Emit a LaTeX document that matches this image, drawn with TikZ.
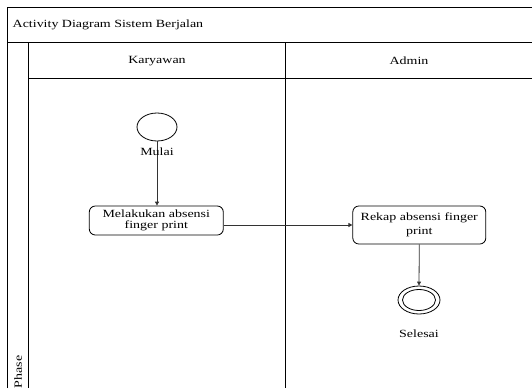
\documentclass[tikz,border=0pt]{standalone}
\usepackage{fontspec}
\setmainfont[FakeStretch=1.27]{Liberation Serif}
\usetikzlibrary{arrows.meta,shapes.geometric}
\begin{document}
\begin{tikzpicture}[x=1pt,y=-1pt,
  every node/.style={font=\fontsize{11}{13}\selectfont, inner sep=0pt},
  frame/.style={draw=black, line width=0.9pt},
  act/.style={draw=black, line width=0.8pt, rounded corners=6pt, align=center},
  startnode/.style={draw=black, line width=0.8pt, ellipse, minimum width=40pt, minimum height=28pt},
  endnode/.style={draw=black, line width=0.8pt, ellipse, minimum width=42pt, minimum height=28pt,
    path picture={\draw[line width=0.8pt] (path picture bounding box.center) ellipse (16.5pt and 10.5pt);}},
  flow/.style={draw=black!80, line width=0.8pt, -{Triangle[length=4pt,width=4pt]}}]
\useasboundingbox (0,0) rectangle (532,388);
% frame
\draw[frame] (7.3,388) -- (7.3,7.3) -- (532,7.3);
\draw[frame] (7.3,42.7) -- (532,42.7);
\draw[frame] (28.3,78) -- (532,78);
\draw[frame] (28.3,42.7) -- (28.3,388);
\draw[frame] (285.7,42.7) -- (285.7,388);
% labels
\node[anchor=west] (title) at (12.5,25) {Activity Diagram Sistem Berjalan};
\node (lane1) at (157,61) {Karyawan};
\node (lane2) at (409,61) {Admin};
\node[rotate=90] (phase) at (18,372) {Phase};
% nodes
\node[startnode] (start) at (157,127) {};
\node[act, minimum width=134pt, minimum height=29pt, font=\fontsize{11}{11}\selectfont] (box1) at (156.3,220.5) {Melakukan absensi\\finger print};
\node[act, minimum width=133pt, minimum height=38pt, font=\fontsize{11}{14.5}\selectfont] (box2) at (419.3,225) {Rekap absensi finger\\print};
\node[endnode] (end) at (419,300) {};
\node (selesai) at (419,334) {Selesai};
% flows
\draw[flow] (start.south) -- (start.south |- box1.north);
\node (mulai) at (157,152) {Mulai};
\draw[flow] (box1.east |- box2.west) -- (box2.west);
\draw[flow] (box2.south) -- (end.north);
\end{tikzpicture}
\end{document}
